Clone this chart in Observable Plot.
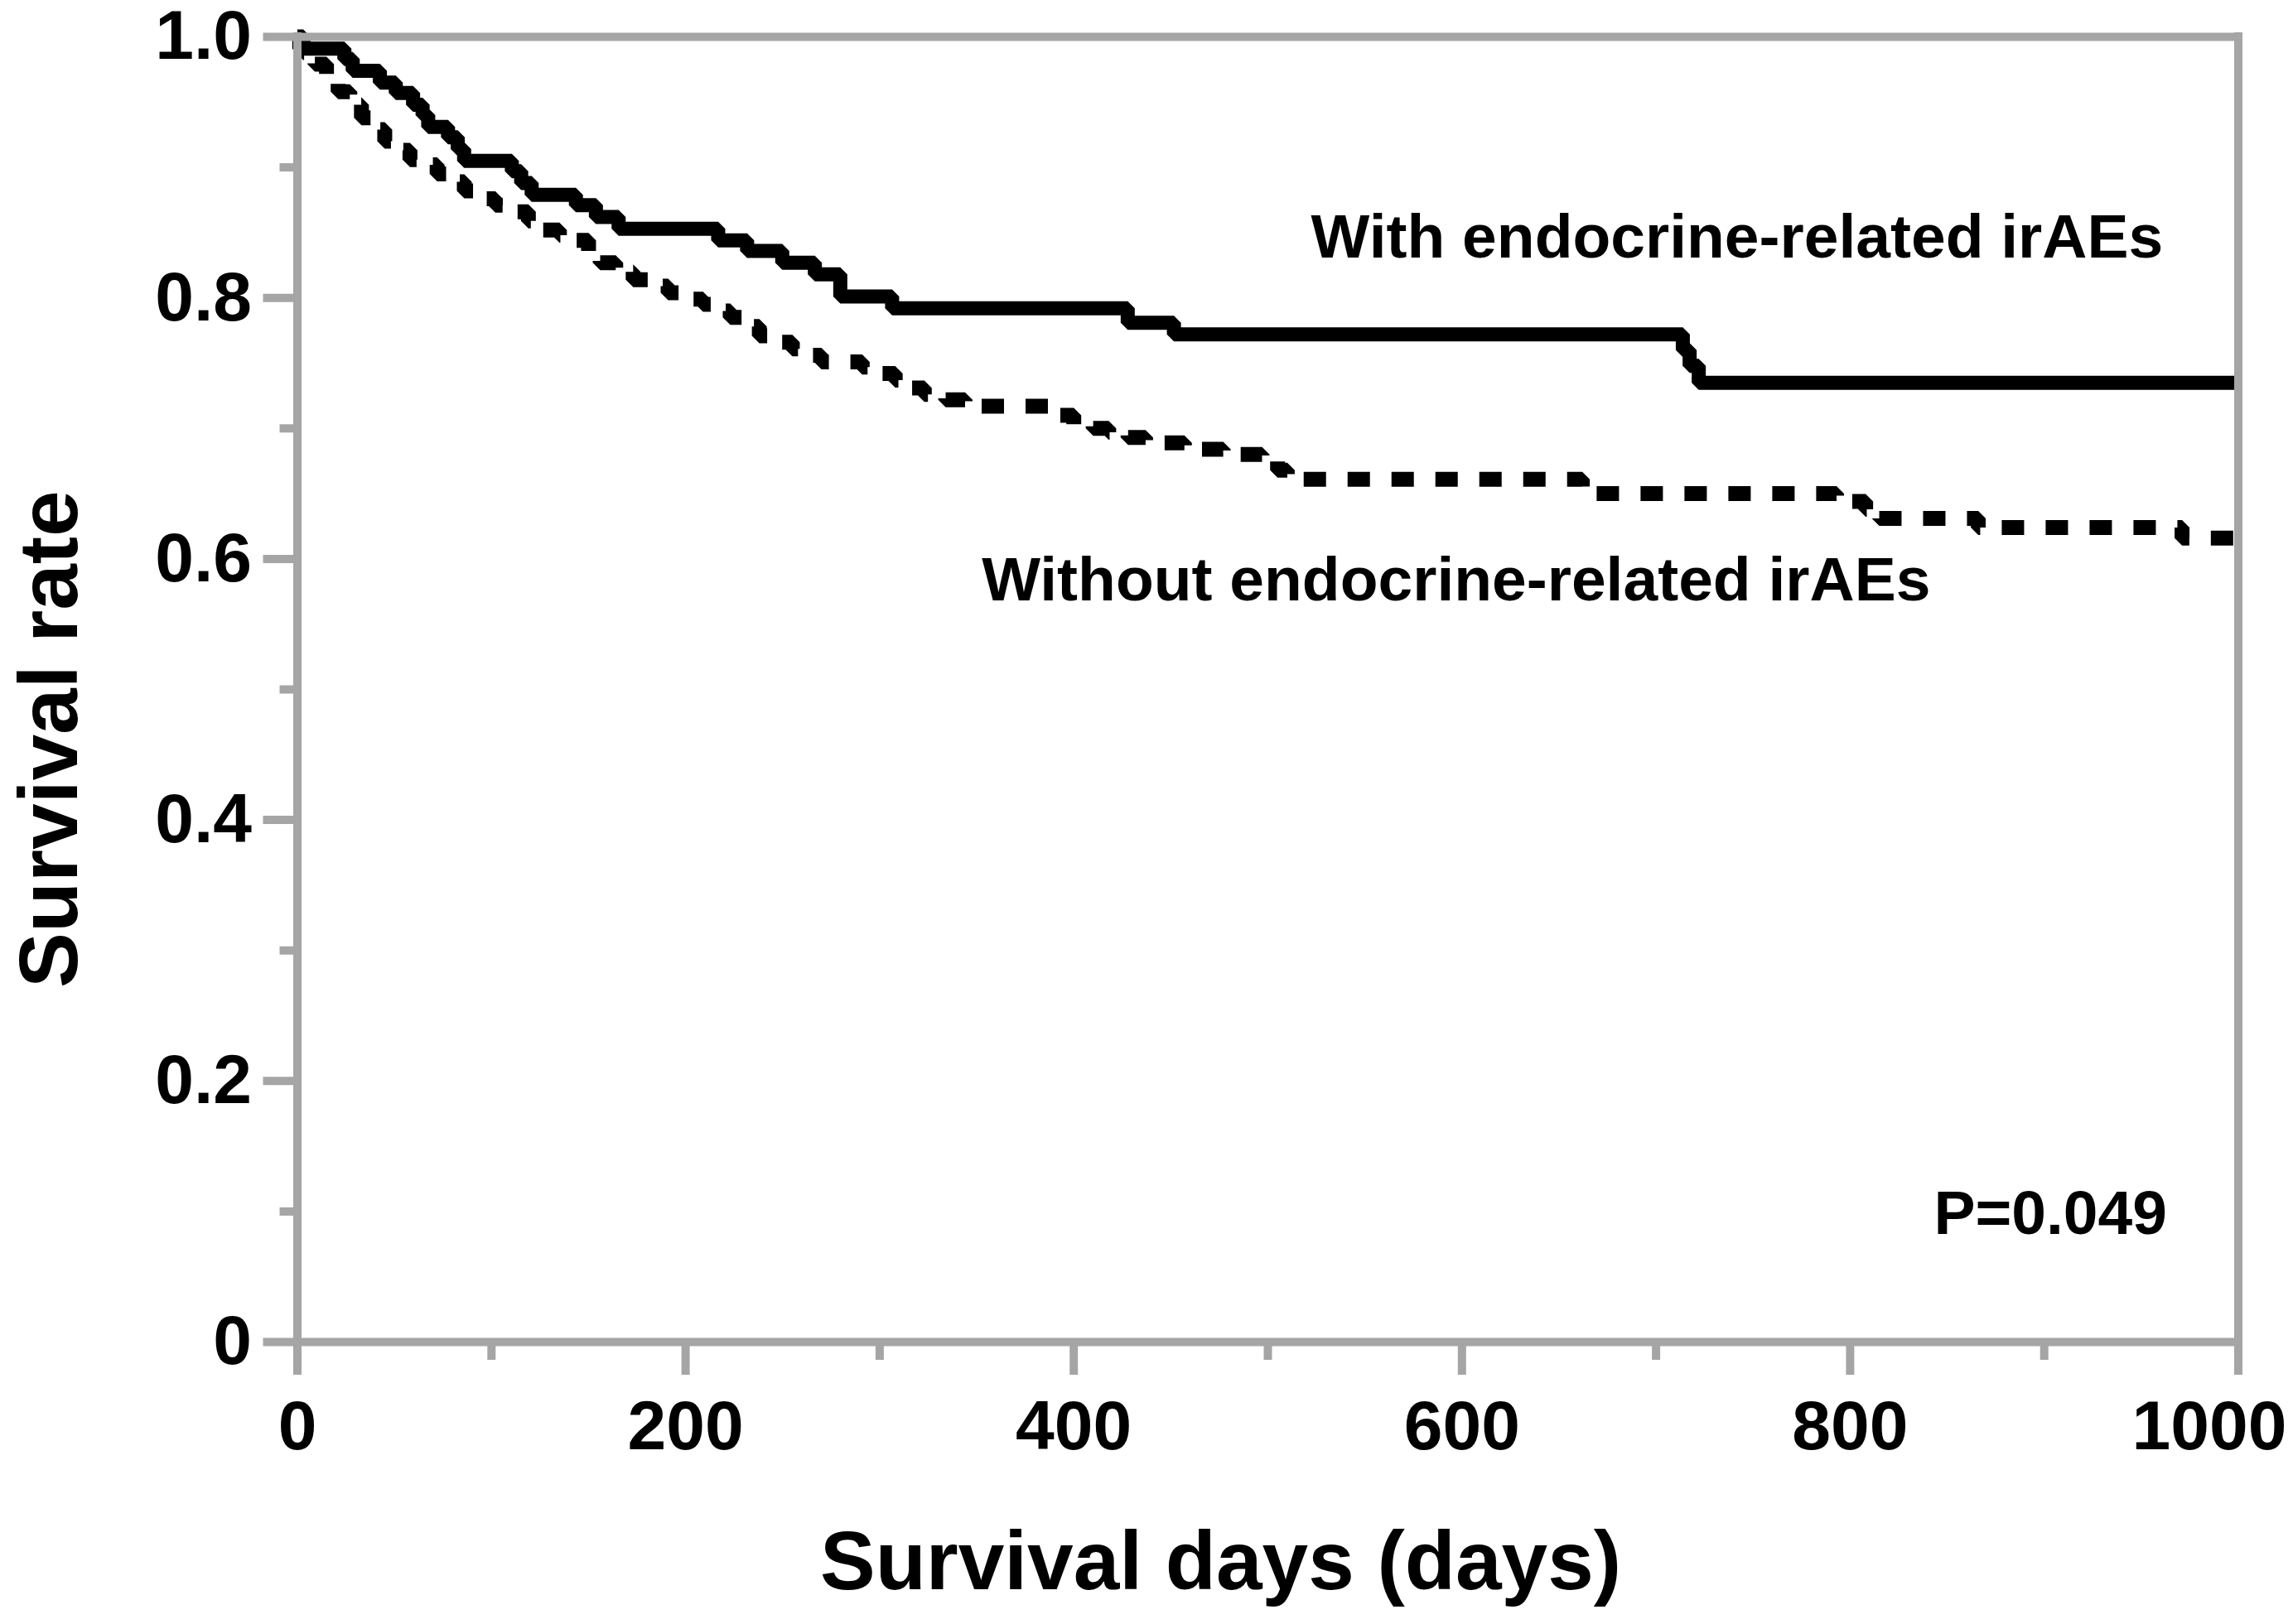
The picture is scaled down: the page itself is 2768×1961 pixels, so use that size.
<!DOCTYPE html>
<html>
<head>
<meta charset="utf-8">
<script src="https://cdn.jsdelivr.net/npm/d3@7"></script>
<script src="https://cdn.jsdelivr.net/npm/@observablehq/plot@0.6"></script>
<style>
  html, body { margin: 0; padding: 0; background: #ffffff; }
  #chart svg { display: block; }
</style>
</head>
<body>
<div id="chart"></div>
<script>
// ---- Data ----
const withDays = [0, 1, 24.2, 28.5, 42.5, 50.7, 59.6, 64.5, 67.4, 77.6, 82.6, 85.9, 110.5, 115.3, 120.7, 143.5, 153.8, 165.5, 216.8, 231.7, 249.8, 266.6, 279.7, 306.4, 427.8, 451.6, 713.8, 717.3, 722.0, 1000];
const withSurv = [1.0, 0.991, 0.983, 0.974, 0.965, 0.957, 0.948, 0.940, 0.931, 0.923, 0.914, 0.905, 0.897, 0.888, 0.879, 0.871, 0.862, 0.853, 0.844, 0.836, 0.827, 0.818, 0.801, 0.792, 0.781, 0.772, 0.760, 0.748, 0.735, 0.735];

const withoutDays = [0, 3, 9, 15, 21, 27, 33, 39, 45, 51, 58, 66, 72, 79, 86, 93, 102, 112, 119, 126, 135, 143, 150, 156, 164, 173, 181, 191, 200, 209, 216, 223, 231, 238, 246, 255, 262, 270, 291, 300, 308, 316, 323, 334, 344, 352, 392, 400, 410, 418, 428, 437, 457, 477, 497, 505, 510, 662, 793, 808, 815, 866, 971, 1000];
const withoutSurv = [1.0, 0.988, 0.979, 0.968, 0.958, 0.948, 0.938, 0.929, 0.920, 0.913, 0.906, 0.902, 0.895, 0.889, 0.882, 0.876, 0.871, 0.866, 0.859, 0.852, 0.848, 0.844, 0.835, 0.827, 0.820, 0.814, 0.809, 0.804, 0.799, 0.795, 0.790, 0.785, 0.778, 0.771, 0.766, 0.761, 0.756, 0.751, 0.747, 0.742, 0.737, 0.731, 0.726, 0.722, 0.720, 0.717, 0.710, 0.703, 0.700, 0.697, 0.693, 0.689, 0.684, 0.680, 0.675, 0.668, 0.661, 0.650, 0.644, 0.638, 0.631, 0.624, 0.616, 0.616];

const xMajorTicks = [0, 200, 400, 600, 800, 1000];
const xTickLabels = ["0", "200", "400", "600", "800", "1000"];
const xMinorTicks = [100, 300, 500, 700, 900];
const yMajorTicks = [0, 0.2, 0.4, 0.6, 0.8, 1.0];
const yTickLabels = ["0", "0.2", "0.4", "0.6", "0.8", "1.0"];
const yMinorTicks = [0.1, 0.3, 0.5, 0.7, 0.9];

const withLabel = "With endocrine-related irAEs";
const withoutLabel = "Without endocrine-related irAEs";
const pLabel = "P=0.049";
const xTitle = "Survival days (days)";
const yTitle = "Survival rate";

// ---- Build tables ----
const withRows = withDays.map((d, i) => ({day: d, s: withSurv[i]}));
const withoutRows = withoutDays.map((d, i) => ({day: d, s: withoutSurv[i]}));
const xLab = new Map(xMajorTicks.map((t, i) => [t, xTickLabels[i]]));
const yLab = new Map(yMajorTicks.map((t, i) => [t, yTickLabels[i]]));

const grey = "#a5a5a5";
const font = "'Liberation Sans', Arial, Helvetica, sans-serif";

const chart = Plot.plot({
  width: 2768,
  height: 1961,
  marginLeft: 358.5,
  marginRight: 66.5,
  marginTop: 44,
  marginBottom: 341,
  x: {domain: [0, 1000], label: null},
  y: {domain: [0, 1], label: null},
  style: {fontFamily: font, fontWeight: "bold", background: "#ffffff", color: "#000000", overflow: "visible"},
  marks: [
    Plot.line(withoutRows, {x: "day", y: "s", curve: "step-after", stroke: "#000", strokeWidth: 18, strokeDasharray: "27,26", strokeLinecap: "butt", strokeLinejoin: "miter"}),
    Plot.line(withRows, {x: "day", y: "s", curve: "step-after", stroke: "#000", strokeWidth: 17, strokeLinecap: "butt", strokeLinejoin: "miter"}),
    // frame
    Plot.ruleX([0, 1000], {x: d => d, y1: 0, y2: 1, stroke: grey, strokeWidth: 10, strokeLinecap: "square"}),
    Plot.ruleY([0, 1], {y: d => d, x1: 0, x2: 1000, stroke: grey, strokeWidth: 10, strokeLinecap: "square"}),
    // x axis
    Plot.axisX(xMajorTicks, {label: null, tickSize: 40, tickPadding: 30, stroke: grey, strokeWidth: 10, fill: "#000", fontSize: 84, fontWeight: "bold", tickFormat: d => d === 1000 ? "" : xLab.get(d)}),
    Plot.axisX([1000], {label: null, tickSize: 40, tickPadding: 30, stroke: "none", strokeWidth: 0, fill: "#000", fontSize: 84, fontWeight: "bold", dx: -35, tickFormat: d => xLab.get(d)}),
    Plot.axisX(xMinorTicks, {label: null, tickSize: 22, stroke: grey, strokeWidth: 10, tickFormat: () => ""}),
    // y axis
    Plot.axisY(yMajorTicks, {label: null, tickSize: 41, tickPadding: 14, stroke: grey, strokeWidth: 10, fill: "#000", fontSize: 84, fontWeight: "bold", tickFormat: d => yLab.get(d)}),
    Plot.axisY(yMinorTicks, {label: null, tickSize: 21, stroke: grey, strokeWidth: 10, tickFormat: () => ""}),
    // titles
    Plot.text([xTitle], {text: d => d, frameAnchor: "bottom", dx: -57, dy: 298, textAnchor: "middle", lineAnchor: "bottom", fontSize: 100, fontWeight: "bold", fill: "#000"}),
    Plot.text([yTitle], {text: d => d, frameAnchor: "left", rotate: -90, dx: -266.5, dy: 60, textAnchor: "middle", lineAnchor: "bottom", fontSize: 100, fontWeight: "bold", fill: "#000"}),
    // annotations
    Plot.text([withLabel], {text: d => d, x: 522.2, y: 0.8306, textAnchor: "start", lineAnchor: "bottom", fontSize: 75, fontWeight: "bold", fill: "#000"}),
    Plot.text([withoutLabel], {text: d => d, x: 352.6, y: 0.5685, textAnchor: "start", lineAnchor: "bottom", fontSize: 75, fontWeight: "bold", fill: "#000"}),
    Plot.text([pLabel], {text: d => d, x: 963.3, y: 0.0831, textAnchor: "end", lineAnchor: "bottom", fontSize: 75, fontWeight: "bold", fill: "#000"})
  ]
});
document.getElementById("chart").appendChild(chart);
</script>
</body>
</html>
